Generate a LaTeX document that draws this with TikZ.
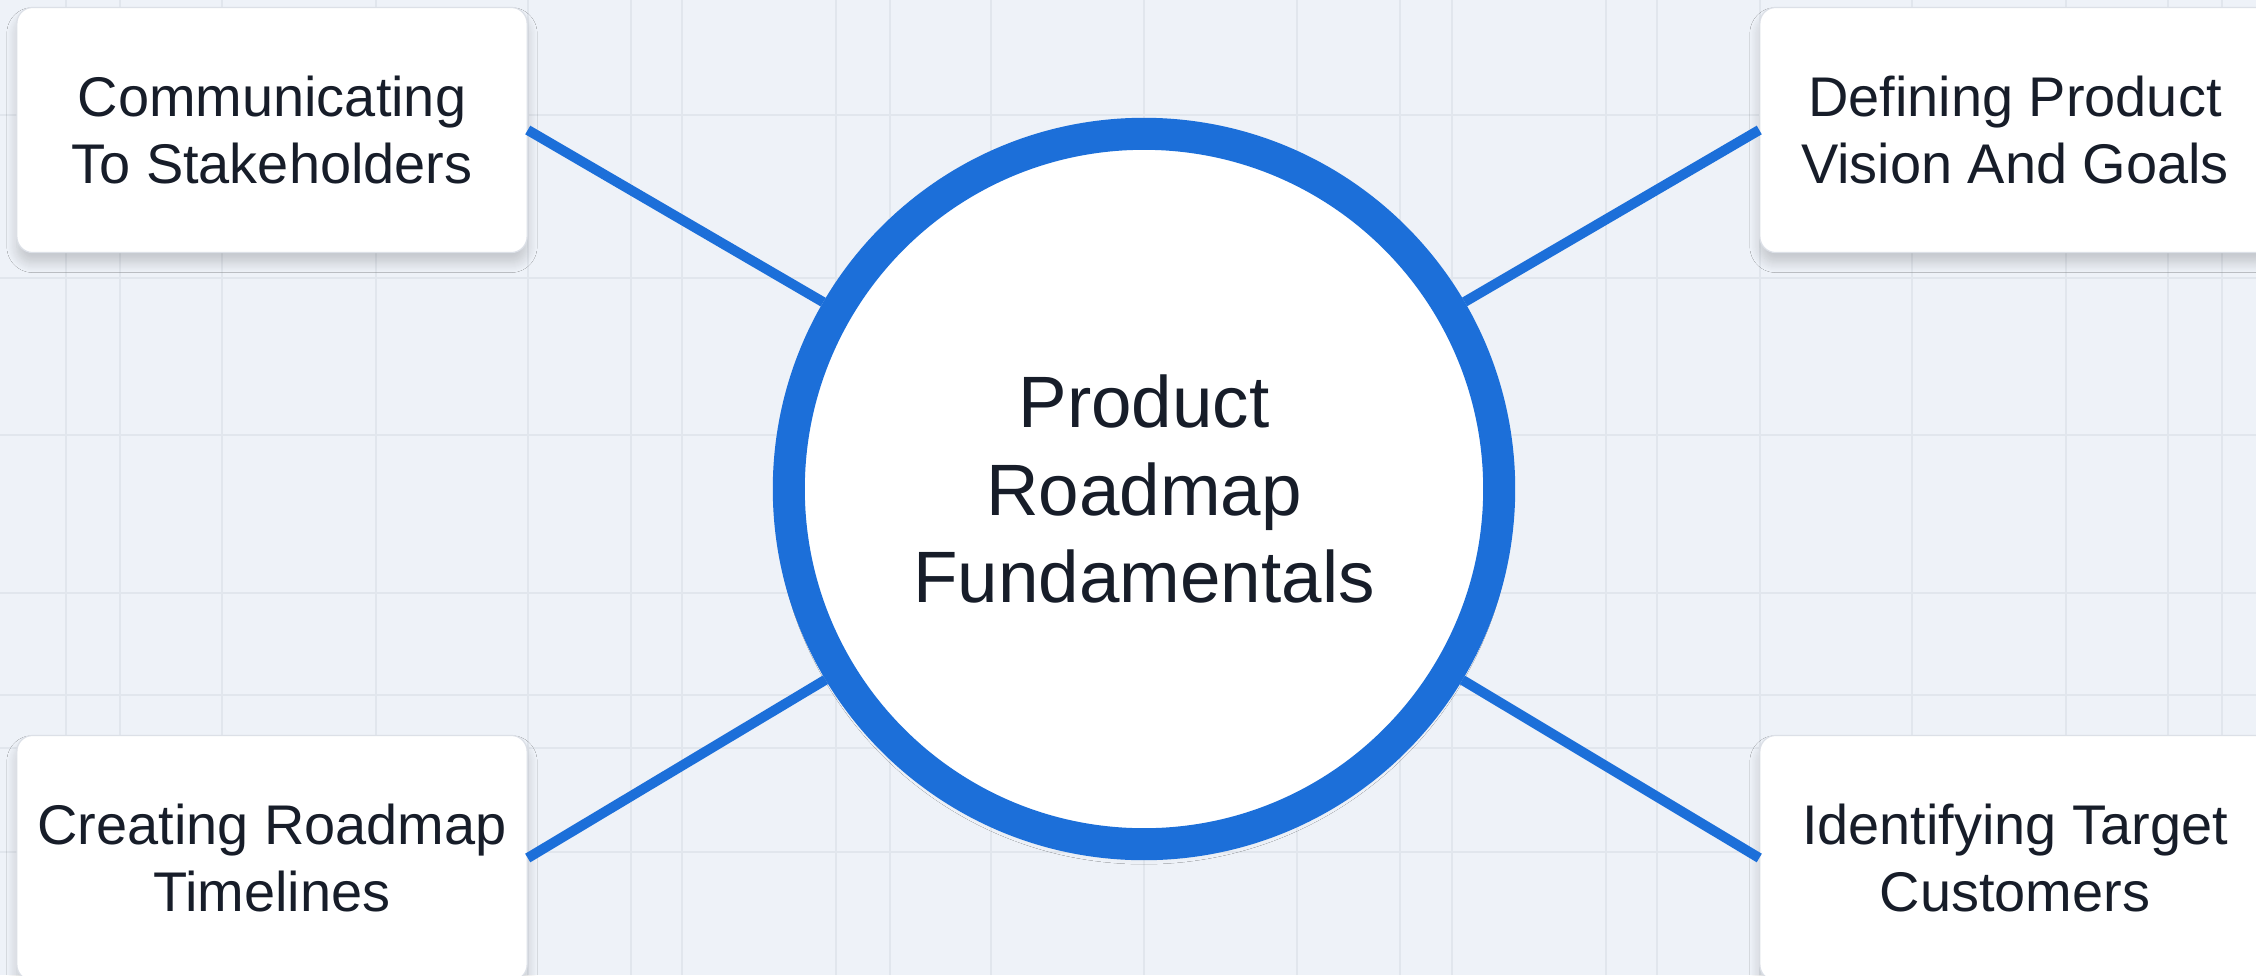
\documentclass[tikz,border=0pt]{standalone}
\usepackage{fontspec}
\setmainfont{Liberation Sans}
\usetikzlibrary{shadows.blur}
\definecolor{canvas}{HTML}{EEF2F8}
\definecolor{gridline}{HTML}{E1E6ED}
\definecolor{hubblue}{HTML}{1C6FD9}
\definecolor{inkdark}{HTML}{171D29}
\definecolor{cardedge}{HTML}{DCE0E7}

\begin{document}
\begin{tikzpicture}[x=0.01cm, y=-0.01cm,
    topic/.style={draw=cardedge, line width=0.012cm, fill=white, rounded corners=0.16cm,
      minimum width=5.1cm, minimum height=2.45cm, align=center, text=inkdark,
      font=\fontsize{15.9}{19.1}\selectfont,
      blur shadow={shadow xshift=0cm, shadow yshift=-0.1cm, shadow blur radius=0.1cm,
        shadow blur steps=10, shadow opacity=18}},
    hub/.style={circle, draw=hubblue, line width=0.32cm, fill=white, minimum size=7.1cm,
      inner sep=0pt, align=center, text=inkdark, font=\fontsize{20.7}{24.8}\selectfont,
      blur shadow={shadow xshift=0cm, shadow yshift=-0.06cm, shadow blur radius=0.14cm,
        shadow blur steps=10, shadow opacity=14}},
    link/.style={draw=hubblue, line width=0.1cm}]

        % Canvas and grid
        \clip (0,0) rectangle (2256,975);
        \fill[canvas] (0,0) rectangle (2256,975);
        \foreach \gx in {66,120,222,376,528,631,682,836,890,991,1144,1297,1400,1452,1606,1657,1760,1912,2066,2168,2222}
            \draw[gridline, line width=0.012cm] (\gx,0) -- (\gx,975);
        \foreach \gy in {115,278,435,593,695,748,852}
            \draw[gridline, line width=0.012cm] (0,\gy) -- (2256,\gy);

        % Central topic
        \node[hub] (core) at (1144,489) {Product\\Roadmap\\Fundamentals};

        % Surrounding topics
        \node[topic] (comms) at (272,130) {Communicating\\To Stakeholders};
        \node[topic] (vision) at (2015,130) {Defining Product\\Vision And Goals};
        \node[topic] (timeline) at (272,858) {Creating Roadmap\\Timelines};
        \node[topic] (customers) at (2015,858) {Identifying Target\\Customers};

        % Links to the centre
        \draw[link] (comms.east) -- (core);
        \draw[link] (vision.west) -- (core);
        \draw[link] (timeline.east) -- (core);
        \draw[link] (customers.west) -- (core);

\end{tikzpicture}
\end{document}
